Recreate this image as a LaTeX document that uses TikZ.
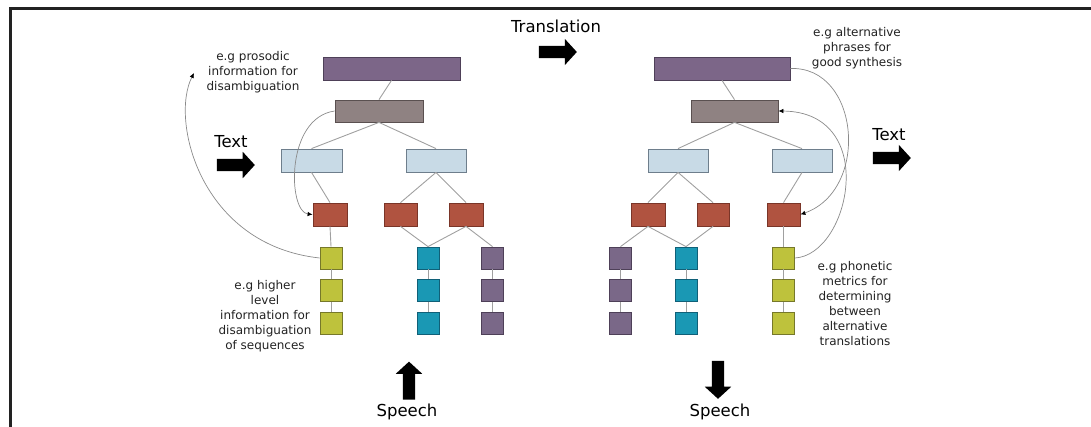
\documentclass[tikz,border=0pt]{standalone}
\usepackage{fontspec}
\setmainfont{DejaVu Sans}
\usetikzlibrary{shapes.arrows,arrows.meta}

\definecolor{phrasefill}{HTML}{7C6688}
\definecolor{phrasedraw}{HTML}{4E4058}
\definecolor{wordfill}{HTML}{8F8282}
\definecolor{worddraw}{HTML}{5A5050}
\definecolor{sylfill}{HTML}{C8DAE6}
\definecolor{syldraw}{HTML}{6E7E8C}
\definecolor{redfill}{HTML}{B05340}
\definecolor{reddraw}{HTML}{7A3528}
\definecolor{yelfill}{HTML}{BEC23C}
\definecolor{yeldraw}{HTML}{76782A}
\definecolor{cyanfill}{HTML}{1A98B4}
\definecolor{cyandraw}{HTML}{106078}
\definecolor{purfill}{HTML}{7A6888}
\definecolor{purdraw}{HTML}{4E4058}
\definecolor{linkgray}{HTML}{A0A0A0}
\definecolor{curvegray}{HTML}{8A8A8A}
\definecolor{textgray}{HTML}{222222}

\tikzset{
  box/.style={rectangle, inner sep=0pt, line width=0.8pt},
  phrasebox/.style={box, fill=phrasefill, draw=phrasedraw, minimum width=137pt, minimum height=23pt},
  wordbox/.style={box, fill=wordfill, draw=worddraw, minimum width=88pt, minimum height=22pt},
  sylbox/.style={box, fill=sylfill, draw=syldraw, minimum width=60pt, minimum height=23pt},
  redbox/.style={box, fill=redfill, draw=reddraw, minimum width=34pt, minimum height=23pt},
  sq/.style={box, minimum width=22pt, minimum height=22pt},
  yelsq/.style={sq, fill=yelfill, draw=yeldraw},
  cyansq/.style={sq, fill=cyanfill, draw=cyandraw},
  pursq/.style={sq, fill=purfill, draw=purdraw},
  link/.style={draw=linkgray, line width=0.9pt},
  feedback/.style={draw=curvegray, line width=0.7pt, -{Latex[length=5pt,width=4.5pt,color=black]}},
  note/.style={align=center, font=\fontsize{12}{15}\selectfont, text=textgray, inner sep=0pt},
  label/.style={font=\fontsize{16.5}{18}\selectfont, text=black, inner sep=0pt},
  arrowbase/.style={single arrow, fill=black, draw=none, inner sep=0pt,
    single arrow head extend=7pt, single arrow tip angle=95, minimum height=38pt},
  hblockarrow/.style={arrowbase, text height=6pt, text depth=6pt, text width=0pt},
  vblockarrow/.style={arrowbase, text height=0pt, text depth=0pt, text width=12pt}
}

\begin{document}
\begin{tikzpicture}[x=1pt, y=-1pt]
\useasboundingbox (0,0) rectangle (1091,427);

% frame
\draw[line width=3pt, color=textgray] (10,427) -- (10,9) -- (1091,9);

% ---------- source tree ----------
\node[phrasebox] (LP) at (391.5,68.5) {};
\node[wordbox]   (LG) at (379,111) {};
\node[sylbox, minimum width=61pt] (LB1) at (311.5,160.5) {};
\node[sylbox] (LB2) at (436,160.5) {};
\node[redbox] (LR1) at (330,214.5) {};
\node[redbox, minimum width=33pt] (LR2) at (400.5,214.5) {};
\node[redbox] (LR3) at (466,214.5) {};

\node[yelsq]  (LY1) at (331,258) {};
\node[yelsq]  (LY2) at (331,290.5) {};
\node[yelsq]  (LY3) at (331,323) {};
\node[cyansq] (LC1) at (428,258) {};
\node[cyansq] (LC2) at (428,290.5) {};
\node[cyansq] (LC3) at (428,323) {};
\node[pursq]  (LQ1) at (492.5,258) {};
\node[pursq]  (LQ2) at (492.5,290.5) {};
\node[pursq]  (LQ3) at (492.5,323) {};

\path[link] (LP.south) -- (LG.north);
\path[link] (LG.south) -- (LB1.north);
\path[link] (LG.south) -- (LB2.north);
\path[link] (LB1.south) -- (LR1.north);
\path[link] (LB2.south) -- (LR2.north);
\path[link] (LB2.south) -- (LR3.north);
\path[link] (LR1.south) -- (LY1.north);
\path[link] (LR2.south) -- (LC1.north);
\path[link] (LR3.south) -- (LC1.north);
\path[link] (LR3.south) -- (LQ1.north);
\path[link] (LY1.south) -- (LY2.north);
\path[link] (LY2.south) -- (LY3.north);
\path[link] (LC1.south) -- (LC2.north);
\path[link] (LC2.south) -- (LC3.north);
\path[link] (LQ1.south) -- (LQ2.north);
\path[link] (LQ2.south) -- (LQ3.north);

% ---------- target tree ----------
\node[phrasebox, minimum width=136pt] (RP) at (722,68.5) {};
\node[wordbox, minimum width=87pt] (RG) at (734.5,111) {};
\node[sylbox] (RB1) at (678,160.5) {};
\node[sylbox] (RB2) at (802,160.5) {};
\node[redbox] (RR1) at (648,214.5) {};
\node[redbox, minimum width=32pt] (RR2) at (713,214.5) {};
\node[redbox, minimum width=33pt] (RR3) at (783.5,214.5) {};

\node[pursq]  (RQ1) at (620.5,258) {};
\node[pursq]  (RQ2) at (620.5,290.5) {};
\node[pursq]  (RQ3) at (620.5,323) {};
\node[cyansq] (RC1) at (686,258) {};
\node[cyansq] (RC2) at (686,290.5) {};
\node[cyansq] (RC3) at (686,323) {};
\node[yelsq]  (RY1) at (783.5,258) {};
\node[yelsq]  (RY2) at (783.5,290.5) {};
\node[yelsq]  (RY3) at (783.5,323) {};

\path[link] (RP.south) -- (RG.north);
\path[link] (RG.south) -- (RB1.north);
\path[link] (RG.south) -- (RB2.north);
\path[link] (RB1.south) -- (RR1.north);
\path[link] (RB1.south) -- (RR2.north);
\path[link] (RB2.south) -- (RR3.north);
\path[link] (RR1.south) -- (RQ1.north);
\path[link] (RR1.south) -- (RC1.north);
\path[link] (RR2.south) -- (RC1.north);
\path[link] (RR3.south) -- (RY1.north);
\path[link] (RQ1.south) -- (RQ2.north);
\path[link] (RQ2.south) -- (RQ3.north);
\path[link] (RC1.south) -- (RC2.north);
\path[link] (RC2.south) -- (RC3.north);
\path[link] (RY1.south) -- (RY2.north);
\path[link] (RY2.south) -- (RY3.north);

% ---------- notes ----------
\node[note] (nprosodic) at (253,72) {e.g prosodic\\information for\\disambiguation};
\node[note] (nalt) at (857,48) {e.g alternative\\phrases for\\good synthesis};
\node[note] (nhigher) at (265,316.5) {e.g higher\\level\\information for\\disambiguation\\of sequences};
\node[note] (nphon) at (855,304) {e.g phonetic\\metrics for\\determining\\between\\alternative\\translations};
\coordinate (prosodictip) at (194,73);

% ---------- feedback curves ----------
\draw[feedback] (LG.west) .. controls (285,118) and (288,212) .. (LR1.west);
\draw[feedback] (LY1.west) .. controls (200,245) and (170,120) .. (prosodictip);
\draw[feedback] (RP.east) .. controls (860,66) and (870,190) .. (RR3.east);
\draw[feedback] (RY1.east) .. controls (850,255) and (880,112) .. (RG.east);

% ---------- direction labels ----------
\node[label] (ltrans) at (556,26) {Translation};
\node[hblockarrow] (atrans) at (555,52) {};
\node[label] (ltextin) at (231,142) {Text};
\node[hblockarrow] (atextin) at (233,165) {};
\node[label] (ltextout) at (889,135) {Text};
\node[hblockarrow] (atextout) at (889,158) {};
\node[label] (lspin) at (407,412) {Speech};
\node[vblockarrow, shape border rotate=90] (aspin) at (409,383.5) {};
\node[label] (lspout) at (720,412) {Speech};
\node[vblockarrow, shape border rotate=270] (aspout) at (718,377) {};
\end{tikzpicture}
\end{document}
